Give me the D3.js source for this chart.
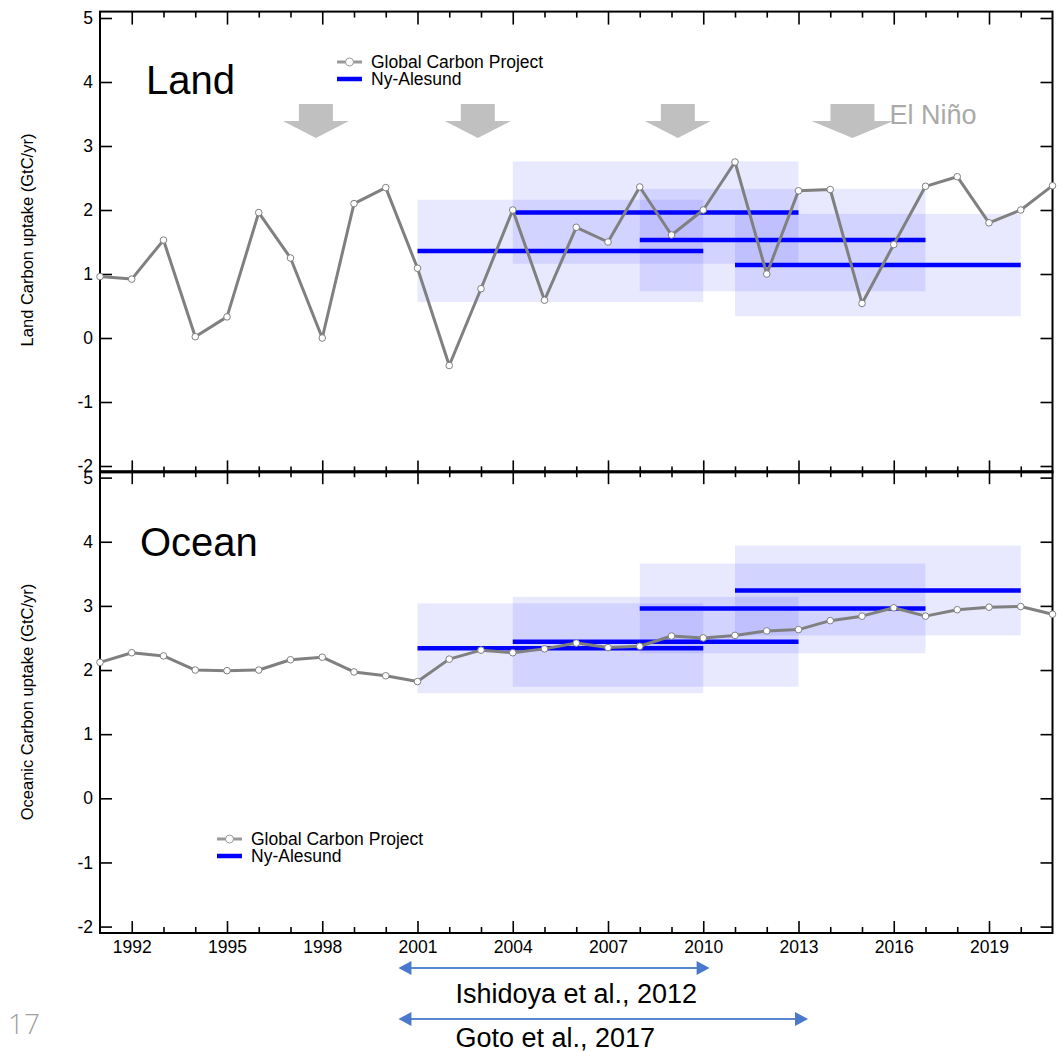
<!DOCTYPE html>
<html>
<head>
<meta charset="utf-8">
<script src="https://cdn.jsdelivr.net/npm/d3@7"></script>
<style>
  body { margin: 0; background: #fff; }
  svg { display: block; font-family: "Liberation Sans", Arial, Helvetica, sans-serif; }
</style>
</head>
<body>
<svg id="chart" width="1063" height="1052"></svg>
<script>
// yearly values (GtC/yr)
const years = [1991, 1992, 1993, 1994, 1995, 1996, 1997, 1998, 1999, 2000,
               2001, 2002, 2003, 2004, 2005, 2006, 2007, 2008, 2009, 2010,
               2011, 2012, 2013, 2014, 2015, 2016, 2017, 2018, 2019, 2020, 2021];
const landGCP = [0.96, 0.92, 1.53, 0.02, 0.33, 1.96, 1.25, 0.00, 2.10, 2.35,
                 1.09, -0.43, 0.77, 2.00, 0.59, 1.73, 1.50, 2.36, 1.61, 2.00,
                 2.75, 1.00, 2.30, 2.32, 0.54, 1.46, 2.37, 2.52, 1.80, 2.00, 2.38];
const oceanGCP = [2.12, 2.27, 2.22, 2.00, 1.99, 2.00, 2.16, 2.20, 1.97, 1.91,
                  1.82, 2.17, 2.31, 2.27, 2.33, 2.42, 2.35, 2.37, 2.53, 2.50,
                  2.54, 2.61, 2.63, 2.77, 2.84, 2.97, 2.84, 2.94, 2.98, 2.99, 2.87];

// Ny-Alesund estimates over 10 year windows
const periodStart = [2001, 2004, 2008, 2011];
const periodEnd = [2010, 2013, 2017, 2020];
const landNy = [1.36, 1.96, 1.53, 1.14];
const landNyErr = [0.8, 0.8, 0.8, 0.8];
const oceanNy = [2.34, 2.44, 2.96, 3.24];
const oceanNyErr = [0.7, 0.7, 0.7, 0.7];

// El Nino arrows (year of centre)
const ninoYears = [1997.8, 2002.9, 2009.2, 2014.7];

// study periods below the axis
const refStart = [2000.4, 2000.4];
const refEnd = [2010.2, 2013.3];
const refLabels = ["Ishidoya et al., 2012", "Goto et al., 2017"];

const majorYears = [1992, 1995, 1998, 2001, 2004, 2007, 2010, 2013, 2016, 2019];
const minorYears = [1993, 1994, 1996, 1997, 1999, 2000, 2002, 2003, 2005, 2006, 2008, 2009,
                    2011, 2012, 2014, 2015, 2017, 2018, 2020];
const yTicks = [-2, -1, 0, 1, 2, 3, 4, 5];

var svg = d3.select("#chart");

var x = d3.scaleLinear().domain([1991, 2021]).range([100, 1052.5]);
var yLand = d3.scaleLinear().domain([-2.1, 5.1]).range([472.4, 11.6]);
var yOcean = d3.scaleLinear().domain([-2.1, 5.1]).range([933, 471.2]);

function styleAxis(ax) {
    ax.select(".domain").remove();
    ax.selectAll("line").attr("stroke", "#000").attr("stroke-width", 1.6);
    ax.selectAll("text").attr("font-size", 17.5).attr("fill", "#000").attr("font-family", null);
}

function drawPanel(y, gcp, ny, nyErr, title, titleX, titleY, showYears) {
    var top = y.range()[1], bottom = y.range()[0];
    var g = svg.append("g");

    // shaded ranges and mean lines
    periodStart.forEach(function(s, i) {
        g.append("rect")
            .attr("x", x(s)).attr("width", x(periodEnd[i]) - x(s))
            .attr("y", y(ny[i] + nyErr[i])).attr("height", y(ny[i] - nyErr[i]) - y(ny[i] + nyErr[i]))
            .attr("fill", "rgba(0,0,255,0.09)");
        g.append("line")
            .attr("x1", x(s)).attr("x2", x(periodEnd[i]))
            .attr("y1", y(ny[i])).attr("y2", y(ny[i]))
            .attr("stroke", "#0000ff").attr("stroke-width", 4.5);
    });

    // axes, ticks inward
    var ax;
    ax = g.append("g").attr("transform", "translate(0," + top + ")")
        .call(d3.axisTop(x).tickValues(majorYears).tickSize(-13).tickSizeOuter(0).tickFormat(""));
    styleAxis(ax);
    ax = g.append("g").attr("transform", "translate(0," + top + ")")
        .call(d3.axisTop(x).tickValues(minorYears).tickSize(-6).tickSizeOuter(0).tickFormat(""));
    styleAxis(ax);
    ax = g.append("g").attr("transform", "translate(0," + bottom + ")")
        .call(d3.axisBottom(x).tickValues(majorYears).tickSize(-12).tickSizeOuter(0).tickPadding(8)
            .tickFormat(showYears ? function(d) { return String(d); } : ""));
    styleAxis(ax);
    ax = g.append("g").attr("transform", "translate(0," + bottom + ")")
        .call(d3.axisBottom(x).tickValues(minorYears).tickSize(-6).tickSizeOuter(0).tickFormat(""));
    styleAxis(ax);
    ax = g.append("g").attr("transform", "translate(100,0)")
        .call(d3.axisLeft(y).tickValues(yTicks).tickSize(-12).tickSizeOuter(0).tickPadding(7)
            .tickFormat(function(d) { return String(d); }));
    styleAxis(ax);
    ax = g.append("g").attr("transform", "translate(" + x.range()[1] + ",0)")
        .call(d3.axisRight(y).tickValues(yTicks).tickSize(-12).tickSizeOuter(0).tickFormat(""));
    styleAxis(ax);

    g.append("rect").attr("x", x.range()[0]).attr("y", top)
        .attr("width", x.range()[1] - x.range()[0]).attr("height", bottom - top)
        .attr("fill", "none").attr("stroke", "#000").attr("stroke-width", 2);

    // Global Carbon Project series
    var line = d3.line().x(function(d, i) { return x(years[i]); }).y(function(d) { return y(d); });
    g.append("path").datum(gcp).attr("d", line)
        .attr("fill", "none").attr("stroke", "#808080").attr("stroke-width", 3).attr("stroke-linejoin", "round");
    g.selectAll("circle.pt").data(gcp).enter().append("circle").attr("class", "pt")
        .attr("cx", function(d, i) { return x(years[i]); })
        .attr("cy", function(d) { return y(d); })
        .attr("r", 3.3).attr("fill", "#fff").attr("stroke", "#808080").attr("stroke-width", 1);

    g.append("text").attr("x", titleX).attr("y", titleY).attr("font-size", 40).text(title);
}

function drawLegend(x0, y0) {
    var g = svg.append("g");
    g.append("line").attr("x1", x0).attr("x2", x0 + 25).attr("y1", y0).attr("y2", y0)
        .attr("stroke", "#999").attr("stroke-width", 3);
    g.append("circle").attr("cx", x0 + 12.5).attr("cy", y0).attr("r", 4)
        .attr("fill", "#fff").attr("stroke", "#999").attr("stroke-width", 1);
    g.append("text").attr("x", x0 + 34).attr("y", y0 + 6).attr("font-size", 17.5).text("Global Carbon Project");
    g.append("line").attr("x1", x0).attr("x2", x0 + 25).attr("y1", y0 + 17).attr("y2", y0 + 17)
        .attr("stroke", "#0000ff").attr("stroke-width", 4.5);
    g.append("text").attr("x", x0 + 34).attr("y", y0 + 23).attr("font-size", 17.5).text("Ny-Alesund");
}

drawPanel(yLand, landGCP, landNy, landNyErr, "Land", 146, 94, false);
drawPanel(yOcean, oceanGCP, oceanNy, oceanNyErr, "Ocean", 140, 556, true);

drawLegend(337, 62);
drawLegend(217, 839);

// axis titles
svg.append("text").attr("transform", "translate(33,240) rotate(-90)")
    .attr("text-anchor", "middle").attr("font-size", 16.5).text("Land Carbon uptake (GtC/yr)");
svg.append("text").attr("transform", "translate(33,702) rotate(-90)")
    .attr("text-anchor", "middle").attr("font-size", 16.5).text("Oceanic Carbon uptake (GtC/yr)");

// El Nino arrows
ninoYears.forEach(function(yr, i) {
    var cx = x(yr);
    var sw = i == 3 ? 22 : 17;   // half width of shaft
    var hw = i == 3 ? 41 : 33;   // half width of head
    var pts = [[cx - sw, 104], [cx + sw, 104], [cx + sw, 121], [cx + hw, 121],
               [cx, 138], [cx - hw, 121], [cx - sw, 121]];
    svg.append("path").attr("d", "M" + pts.join("L") + "Z").attr("fill", "#c0c0c0");
});
svg.append("text").attr("x", x(ninoYears[3]) + 37).attr("y", 124)
    .attr("font-size", 27).attr("fill", "#a9a9a9").text("El Niño");

// study period arrows
var refY = [968, 1019];
var refTextY = [1003, 1047];
refStart.forEach(function(s, i) {
    var x1 = x(s), x2 = x(refEnd[i]), yy = refY[i];
    svg.append("line").attr("x1", x1 + 10).attr("x2", x2 - 10).attr("y1", yy).attr("y2", yy)
        .attr("stroke", "#5b87d0").attr("stroke-width", 2);
    svg.append("path").attr("d", "M" + x1 + "," + yy + "L" + (x1 + 13) + "," + (yy - 7) + "L" + (x1 + 13) + "," + (yy + 7) + "Z")
        .attr("fill", "#4a78cc");
    svg.append("path").attr("d", "M" + x2 + "," + yy + "L" + (x2 - 13) + "," + (yy - 7) + "L" + (x2 - 13) + "," + (yy + 7) + "Z")
        .attr("fill", "#4a78cc");
    svg.append("text").attr("x", x1 + 57).attr("y", refTextY[i]).attr("font-size", 27).text(refLabels[i]);
});

// slide number
svg.append("text").attr("x", 8).attr("y", 1034).attr("font-size", 28)
    .attr("font-family", "'Open Sans', sans-serif").attr("font-weight", 300)
    .attr("fill", "#a0a0a0").text("17");
</script>
</body>
</html>
